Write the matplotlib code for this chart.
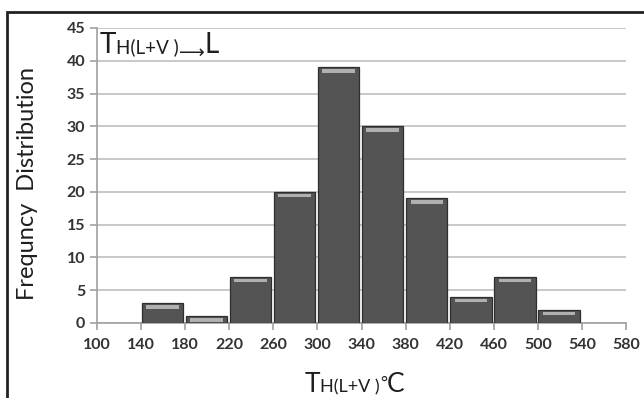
import matplotlib.pyplot as plt
import numpy as np
from matplotlib.patches import Rectangle
from matplotlib.transforms import IdentityTransform

plt.rcParams['font.family'] = ['Lato', 'DejaVu Sans']

# histogram of homogenisation temperatures
bin_left = [140, 180, 220, 260, 300, 340, 380, 420, 460, 500]
frequency = [3, 1, 7, 20, 39, 30, 19, 4, 7, 2]
x_ticks = [100, 140, 180, 220, 260, 300, 340, 380, 420, 460, 500, 540, 580]
y_ticks = [0, 5, 10, 15, 20, 25, 30, 35, 40, 45]

W, H = 644, 398
fig = plt.figure(figsize=(W / 100, H / 100), dpi=100)
ax = fig.add_axes([97 / W, 1 - 323 / H, (626 - 97) / W, (323 - 28) / H])

left = np.array(bin_left) + 0.5
freq = np.array(frequency)
ax.bar(left, freq, width=37.5, align='edge', color='#545454',
       edgecolor='#2e2e2e', linewidth=0.9, zorder=3)
# bevel highlight at the top of each bar
ax.bar(left + 4, [0.5] * len(freq), bottom=freq - 0.8, width=29.5,
       align='edge', color='#b0b0b0', linewidth=0, zorder=4)

ax.set_xlim(100, 580)
ax.set_ylim(0, 45)
ax.set_xticks(x_ticks)
ax.set_yticks(y_ticks)
ax.grid(True, axis='y', color='#c4c4c4', lw=1.3, zorder=0)
for s in ['top', 'right']:
    ax.spines[s].set_visible(False)
for s in ['left', 'bottom']:
    ax.spines[s].set_color('#a0a0a0')
    ax.spines[s].set_linewidth(1.2)
ax.tick_params(axis='both', colors='#a0a0a0', labelcolor='#333333',
               labelsize=11.5, direction='out', length=5, width=1.2)
ax.tick_params(axis='x', pad=6)
for lab in ax.get_xticklabels() + ax.get_yticklabels():
    lab.set_fontweight('bold')

fig.text(27 / W, 1 - 183 / H, 'Frequncy  Distribution', rotation=90,
         ha='center', va='center', fontsize=17, color='#1e1e1e')

# outer frame
fig.add_artist(Rectangle((7 / W, -0.1), 1.2, 1 - 12 / H + 0.1,
                         transform=fig.transFigure, fill=False,
                         ec='#222222', lw=2))

renderer = fig.canvas.get_renderer()


def put_pieces(x, y, pieces):
    for txt, size, dy in pieces:
        t = fig.text(x, y + dy, txt, fontsize=size, color='#1e1e1e',
                     transform=IdentityTransform(), va='baseline', ha='left')
        x += t.get_window_extent(renderer).width


put_pieces(100, H - 53, [('T', 20, 0), ('H(L+V )', 13.5, 0),
                         ('\u27f6', 13, -5), ('L', 20, 0)])
put_pieces(305, H - 392, [('T', 19, 0), ('H(L+V )', 13, 0),
                          ('°', 12, 4), ('C', 19, 0)])

fig.savefig('out.png', dpi=100)
